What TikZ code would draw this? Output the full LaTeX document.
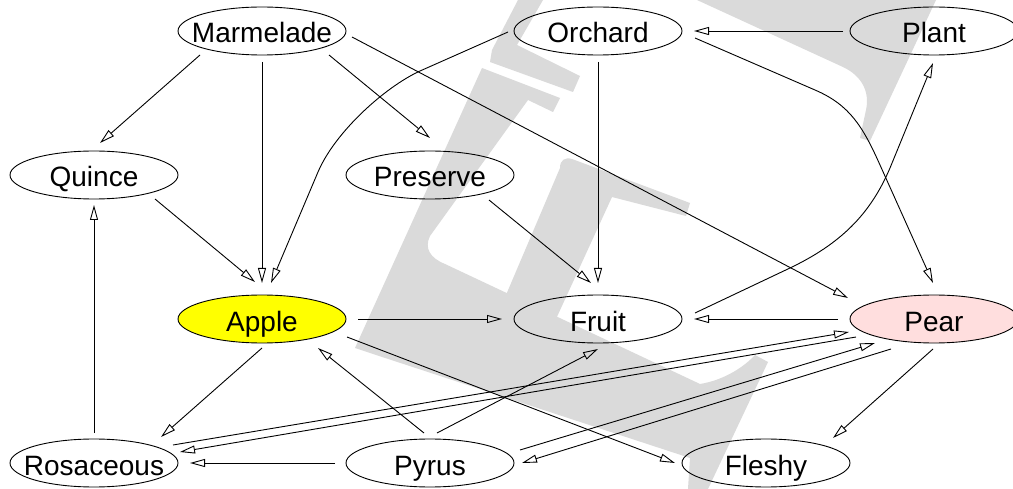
\documentclass[tikz,border=0pt]{standalone}
\usepackage{fontspec}
\setmainfont{Liberation Sans}
\usetikzlibrary{arrows.meta,shapes.geometric,calc}
\definecolor{markgray}{RGB}{218,218,218}
\definecolor{applefill}{RGB}{255,255,0}
\definecolor{pearfill}{RGB}{255,222,222}
\newcommand\termtext[1]{\makebox[0pt]{#1}}

\begin{document}
\begin{tikzpicture}[x=1pt,y=-1pt,
  term/.style={ellipse, draw, line width=0.9pt, minimum width=168pt,
    minimum height=48pt, inner sep=0pt, text height=24pt, text depth=0pt,
    font=\fontsize{28}{30}\selectfont},
  link/.style={line width=0.9pt, -{Triangle[open,length=15pt,width=8pt]}},
  backmark/.style={fill=markgray, draw=none}]

\fill[white] (0,0) rectangle (1013,489);
\clip (0,0) rectangle (1013,489);

% grey logo behind the graph
\fill[backmark] (518,0) -- (543,0) -- (517,45) -- (580,76) -- (573,92) -- (490,62) -- (492,50) -- cycle;
\fill[backmark] (355,348) -- (482,68) -- (560,98) -- (553,112) -- (528,100) -- (430,236)
  .. controls (424,248) and (430,258) .. (445,264) -- (700,384)
  .. controls (725,380) and (745,366) .. (755,355) -- (768,362) -- (708,489) -- (688,489)
  -- (690,458) -- (370,353) -- cycle;
\fill[backmark] (560,168) .. controls (560,160) and (565,157) .. (572,159) -- (690,203)
  -- (686,216) -- (612,197) -- (550,332) -- (506,295) -- cycle;
\fill[backmark] (697,0) -- (843,67) .. controls (862,76) and (870,92) .. (866,110)
  -- (860,138) -- (870,141) -- (936,0) -- cycle;

% nodes
\node[term] (marm)   at (262,31)  {\termtext{Marmelade}};
\node[term] (orch)   at (598,31)  {\termtext{Orchard}};
\node[term] (plant)  at (934,31)  {\termtext{Plant}};
\node[term] (quince) at (94,175)  {\termtext{Quince}};
\node[term] (pres)   at (430,175) {\termtext{Preserve}};
\node[term, fill=applefill] (apple) at (262,319) {\termtext{Apple}};
\node[term] (fruit)  at (598,319) {\termtext{Fruit}};
\node[term, fill=pearfill] (pear) at (934,319) {\termtext{Pear}};
\node[term] (ros)    at (94,463)  {\termtext{Rosaceous}};
\node[term] (pyrus)  at (430,463) {\termtext{Pyrus}};
\node[term] (fleshy) at (766,463) {\termtext{Fleshy}};

% connectors
\draw[link] ($(marm)+(-62,24)$) -- ($(quince)+(6,-32)$);
\draw[link] ($(marm)+(0,31)$) -- ($(apple)+(0,-36)$);
\draw[link] ($(marm)+(67,24)$) -- ($(pres)+(0,-37)$);
\draw[link] ($(marm)+(90,6)$) -- ($(pear)+(-86,-21)$);
\draw[link] ($(orch)+(-90,1)$) -- ($(orch)+(-178,40)$)
  .. controls ($(orch)+(-213,56)$) and ($(orch)+(-263,101)$) .. ($(orch)+(-280,141)$)
  -- ($(apple)+(9,-36)$);
\draw[link] ($(orch)+(0,31)$) -- ($(fruit)+(0,-36)$);
\draw[link] ($(orch)+(97,7)$) -- ($(orch)+(217,59)$)
  .. controls ($(orch)+(252,74)$) and ($(orch)+(265,96)$) .. ($(orch)+(282,134)$)
  -- ($(pear)+(-1,-36)$);
\draw[link] ($(plant)+(-91,0)$) -- ($(orch)+(96,0)$);
\draw[link] ($(pres)+(59,25)$) -- ($(fruit)+(-7,-36)$);
\draw[link] ($(quince)+(61,24)$) -- ($(apple)+(-7,-37)$);
\draw[link] ($(apple)+(96,0)$) -- ($(fruit)+(-96,0)$);
\draw[link] ($(apple)+(0,29)$) -- ($(ros)+(67,-26)$);
\draw[link] ($(apple)+(85,18)$) -- ($(fleshy)+(-91,0)$);
\draw[link] ($(fruit)+(97,-6)$) -- ($(fruit)+(192,-51)$)
  .. controls ($(fruit)+(242,-75)$) and ($(fruit)+(272,-104)$) .. ($(fruit)+(292,-151)$)
  -- ($(plant)+(-1,32)$);
\draw[link] ($(pear)+(-96,0)$) -- ($(fruit)+(96,0)$);
\draw[link] ($(pear)+(-1,30)$) -- ($(fleshy)+(67,-25)$);
\draw[link] ($(ros)+(0,-30)$) -- ($(quince)+(0,30)$);
\draw[link] ($(ros)+(79,-18)$) -- ($(pear)+(-85,13)$);
\draw[link] ($(pear)+(-78,18)$) -- ($(ros)+(86,-11)$);
\draw[link] ($(pyrus)+(-95,0)$) -- ($(ros)+(96,0)$);
\draw[link] ($(pyrus)+(-6,-30)$) -- ($(apple)+(56,29)$);
\draw[link] ($(pyrus)+(7,-30)$) -- ($(fruit)+(0,30)$);
\draw[link] ($(pyrus)+(90,-13)$) -- ($(pear)+(-59,24)$);
\draw[link] ($(pear)+(-43,30)$) -- ($(pyrus)+(92,0)$);
\end{tikzpicture}
\end{document}
